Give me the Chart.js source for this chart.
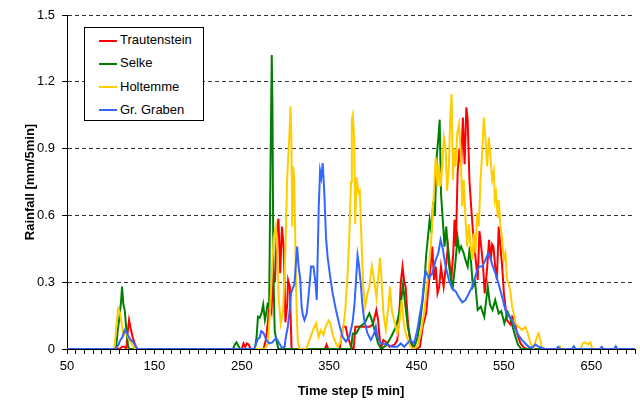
<!DOCTYPE html>
<html lang="en">
<head>
<meta charset="UTF-8">
<title>Rainfall</title>
<style>
  body { margin: 0; background: #fff; }
  #wrap { position: relative; width: 640px; height: 401px; }
  #legend { position: absolute; left: 84px; top: 27px; width: 118px; height: 92px; border: 1px solid #000; background: #fff;
            font: 13px 'Liberation Sans', Arial, sans-serif; color: #000; }
  .item { position: absolute; left: 14px; height: 16px; line-height: 16px; white-space: nowrap; }
  .swatch { display: inline-block; width: 18px; height: 2px; vertical-align: middle; margin-right: 3px; }
</style>
</head>
<body>
<div id="wrap">
  <canvas id="rain" width="640" height="401"></canvas>
  <div id="legend"></div>
</div>

<script src="https://cdn.jsdelivr.net/npm/chart.js@4.4.1/dist/chart.umd.min.js"></script>
<script>
// series names and colours
const seriesNames = ["Trautenstein", "Selke", "Holtemme", "Gr. Graben"];
const seriesColors = ["#ff0000", "#008000", "#ffcc00", "#3366ff"];

// Trautenstein: time step / rainfall
const trautensteinStep = [50, 110, 113, 116, 118, 119, 121, 123, 125, 127, 130,
  250, 252, 254, 256, 258, 260,
  275, 278, 280, 282, 284, 286, 288, 290, 292, 294, 296, 298, 300, 302, 303, 305, 307,
  345, 347, 349, 362, 364, 366, 369, 371, 375, 378, 380, 385, 390, 396, 400, 404, 406, 408, 410, 412, 415, 419,
  425, 428, 430, 432, 434, 436, 437.5, 440, 442, 446, 450, 454, 457, 461, 463, 465.5, 468, 470, 472, 474, 476,
  478, 481, 483, 486, 488, 490, 492, 493.5, 495, 497, 499, 501, 503, 505, 507, 508.5, 510.5, 512.5, 514.5, 517,
  520, 522, 524, 526, 528, 530.5, 533, 535, 536.5, 538, 540, 542, 544, 546, 548, 550, 553.5, 557.5, 559.5, 562,
  565, 569, 572, 576, 700];
const trautensteinRain = [0, 0, 0.01, 0.01, 0, 0.06, 0.13, 0.09, 0.055, 0.03, 0,
  0, 0.025, 0.01, 0.025, 0.02, 0,
  0, 0.05, 0.13, 0.205, 0.17, 0.35, 0.3, 0.52, 0.585, 0.34, 0.55, 0.45, 0.12, 0.2, 0.31, 0.28, 0,
  0, 0.02, 0, 0, 0.055, 0.1, 0.1, 0.06, 0.01, 0, 0.1, 0.1, 0.1, 0.1, 0.11, 0.175, 0.13, 0.04, 0.01, 0.04, 0.03, 0.01,
  0.02, 0.04, 0.13, 0.3, 0.37, 0.3, 0.28, 0.13, 0.055, 0, 0, 0.01, 0.1, 0.16, 0.25, 0.35, 0.46, 0.31, 0.37, 0.25, 0.28,
  0.37, 0.28, 0.35, 0.46, 0.38, 0.32, 0.43, 0.58, 0.46, 0.79, 0.9, 0.82, 1.04, 0.83, 1.085, 1.03, 0.76, 0.64, 0.53, 0.43,
  0.31, 0.53, 0.46, 0.38, 0.25, 0.35, 0.49, 0.4, 0.47, 0.46, 0.37, 0.31, 0.55, 0.46, 0.37, 0.25, 0.13, 0.11, 0.145, 0.13,
  0.07, 0.025, 0.01, 0, 0];

// Selke
const selkeStep = [50, 106, 108, 110.5, 112, 113, 114.5, 116, 118, 120, 122,
  240, 242, 244, 246, 248,
  265, 267, 268.5, 270.5, 272.5, 274.5, 276.5, 278, 279.5, 281.3, 282.8, 284.3, 285.1, 286.2, 287.7, 289.6, 292,
  375, 377, 381, 385, 390.5, 396, 398, 402, 406, 409.5, 415, 421, 426.5, 430, 432.5, 434.5, 436.5, 440, 444, 447.5,
  451, 454, 457, 459, 461, 463, 465, 467, 469, 471, 473, 475, 476.5, 478, 480, 482, 484, 487, 489.5, 491.5, 494,
  497, 499, 501, 504, 506, 508.5, 511, 514.5, 517, 520, 523.5, 527.5, 531.5, 534, 537, 540, 544, 547, 550.5, 554.5,
  558, 562, 566, 570, 700];
const selkeRain = [0, 0, 0.08, 0.16, 0.22, 0.28, 0.2, 0.175, 0.085, 0.01, 0,
  0, 0.02, 0.03, 0.015, 0,
  0, 0.055, 0.145, 0.14, 0.16, 0.2, 0.13, 0.16, 0.2, 0.19, 0.79, 1.32, 1.09, 0.34, 0.08, 0.04, 0,
  0, 0.07, 0.07, 0.1, 0.115, 0.16, 0.14, 0.085, 0.025, 0, 0.015, 0.055, 0.1, 0.16, 0.22, 0.29, 0.22, 0.1, 0.025, 0.01,
  0.05, 0.12, 0.22, 0.3, 0.42, 0.5, 0.58, 0.52, 0.66, 0.6, 0.86, 0.95, 1.03, 0.7, 0.58, 0.46, 0.55, 0.38, 0.31, 0.28, 0.37,
  0.5, 0.44, 0.46, 0.43, 0.4, 0.37, 0.46, 0.28, 0.3, 0.175, 0.19, 0.145, 0.28, 0.2, 0.175, 0.22, 0.16, 0.17, 0.115, 0.165,
  0.13, 0.07, 0.02, 0, 0];

// Holtemme
const holtemmeStep = [50, 104, 106.5, 108.5, 110.5, 112.5, 114.5, 117, 120, 123, 126, 128,
  276, 280, 282, 284, 286.5, 289, 290.5, 292.3, 294.6, 297.3, 300, 301.8, 303, 304.6, 305.8, 306.8, 307.7, 308.8, 310,
  311, 312.2, 314, 316,
  323.6, 327.4, 331, 335, 338, 340.5, 343.4, 346, 349.4, 351.5, 354, 357, 359.7, 362.4, 365.4, 368.5, 371, 373, 375,
  376, 377, 378.7, 379.8, 381.4, 383.6, 385, 387, 389, 391.2, 393.9, 396, 398.8, 401.5, 404.2, 406.5, 408.3, 410,
  412.1, 414.8, 417.8, 419.7, 421.6, 424.3, 428.1, 430.8, 433, 435, 437.6, 441.4, 445.2, 449, 452, 454.7, 456, 458.6,
  461, 464.3, 467, 469, 470, 472, 474, 475.7, 477.5, 479.5, 481.3, 483.3, 485, 487, 488.5, 490.1, 491.7, 493, 494.7,
  496.6, 498.5, 500.4, 502.3, 504, 506.1, 508, 509.9, 512, 513.7, 515.6, 517.5, 519.4, 521.3, 523.2, 525.1, 527,
  528.9, 530.8, 532.7, 534.6, 536.5, 538.4, 539.6, 541, 543, 544.1, 546, 547.9, 549.8, 551.7, 553.6, 555.5, 557.4,
  559.3, 561.2, 563.1, 566.9, 570.7, 574.5, 577.4, 580.2, 584, 587.8, 589.7, 591.6, 593.5, 597.3,
  612, 614, 616, 638, 640, 643, 646, 649, 651, 700];
const holtemmeRain = [0, 0, 0.1, 0.18, 0.165, 0.115, 0.06, 0.08, 0.05, 0.03, 0.01, 0,
  0, 0.025, 0.15, 0.3, 0.5, 0.55, 0.45, 0.22, 0.115, 0.175, 0.45, 0.75, 0.85, 0.97, 1.09, 0.94, 0.55, 0.82, 0.76,
  0.55, 0.26, 0.04, 0,
  0, 0.04, 0.08, 0.115, 0.055, 0.085, 0.063, 0.1, 0.128, 0.115, 0.063, 0.033, 0.01, 0.025, 0.073, 0.175, 0.33, 0.5, 0.75,
  1.03, 1.05, 0.95, 0.56, 0.77, 0.7, 0.71, 0.49, 0.28, 0.19, 0.25, 0.28, 0.37, 0.31, 0.23, 0.34, 0.41, 0.31,
  0.16, 0.085, 0.19, 0.28, 0.175, 0.13, 0.07, 0.13, 0.22, 0.13, 0.07, 0.025, 0, 0.005, 0.025, 0.07, 0.1, 0.16,
  0.25, 0.37, 0.5, 0.65, 0.71, 0.86, 0.73, 0.83, 0.73, 0.82, 0.95, 0.9, 0.71, 0.82, 1.03, 1.145, 0.76, 0.9, 0.82,
  0.97, 1.01, 0.9, 0.64, 0.76, 0.58, 0.46, 0.56, 0.46, 0.4, 0.52, 0.43, 0.61, 0.55, 0.76, 0.88, 1.04,
  0.94, 0.82, 0.95, 0.86, 0.76, 0.8, 0.67, 0.7, 0.59, 0.67, 0.55, 0.5, 0.4, 0.43, 0.31, 0.29, 0.26,
  0.19, 0.16, 0.115, 0.1, 0.085, 0.1, 0.07, 0.025, 0.005, 0.055, 0.07, 0.04, 0.005, 0,
  0, 0.012, 0, 0, 0.025, 0.03, 0.02, 0.03, 0, 0];

// Gr. Graben
const grabenStep = [50, 106, 109, 111, 113.5, 116, 118, 120, 123, 126, 129, 131,
  264, 266, 268.4, 270.4, 272.2, 274.2, 276, 278, 281.7, 285, 289.3, 293, 296, 299, 300.5, 302.7, 304.5, 306.4, 308,
  310.3, 312.2, 313.4, 315, 316.8, 318.5, 320, 321.7, 324.4, 326.7, 329.3, 332, 334.3, 335.8, 338.1, 339.6, 341,
  342.6, 344.5, 346.4, 348.3, 351, 354, 357.8, 361.6, 365.4, 369.2, 373, 376.8, 379, 380.6, 382.5, 384, 386.3, 388,
  390.1, 393.9, 397.7, 401.5, 403.4, 405.3, 409.1, 416.7, 422, 428.1, 431.9, 436, 439.5, 443, 447.1, 450.9, 454.7,
  456.7, 458.5, 460.5, 464, 468.1, 471.9, 474.9, 477.5, 480, 483.3, 487.1, 490.8, 494.7, 498, 502.3, 506, 509.9,
  513.7, 517.5, 521.3, 525.1, 528.9, 532, 534.5, 536.5, 538.4, 540.3, 544.1, 547.9, 551.7, 555.5, 559.3, 563.1,
  566.9, 570.7, 574.5, 578.3, 582, 586, 590, 597, 610, 612, 614, 628, 630, 632, 660, 662, 664, 676, 678, 680, 700];
const grabenRain = [0, 0, 0.02, 0.04, 0.055, 0.085, 0.075, 0.06, 0.04, 0.03, 0.01, 0,
  0, 0.02, 0.045, 0.05, 0.08, 0.075, 0.063, 0.04, 0.025, 0.03, 0.05, 0.025, 0.005, 0.01, 0.055, 0.1, 0.16, 0.25, 0.27,
  0.29, 0.4, 0.46, 0.37, 0.32, 0.19, 0.15, 0.13, 0.16, 0.25, 0.37, 0.37, 0.3, 0.22, 0.64, 0.8, 0.77,
  0.835, 0.7, 0.5, 0.41, 0.33, 0.25, 0.175, 0.11, 0.055, 0.033, 0.055, 0.12, 0.2, 0.3, 0.42, 0.38, 0.29, 0.2,
  0.13, 0.07, 0.04, 0.07, 0.1, 0.055, 0.025, 0.02, 0.01, 0.01, 0.025, 0.01, 0.025, 0.04, 0.025, 0.085, 0.175,
  0.22, 0.3, 0.35, 0.32, 0.34, 0.4, 0.43, 0.49, 0.45, 0.37, 0.31, 0.27, 0.26, 0.235, 0.21, 0.22, 0.25,
  0.28, 0.33, 0.37, 0.37, 0.4, 0.43, 0.41, 0.38, 0.36, 0.34, 0.29, 0.235, 0.175, 0.15, 0.13, 0.09,
  0.06, 0.04, 0.025, 0.01, 0.005, 0.02, 0.01, 0, 0, 0.01, 0, 0, 0.012, 0, 0, 0.01, 0, 0, 0.012, 0, 0];

const seriesSteps = [trautensteinStep, selkeStep, holtemmeStep, grabenStep];
const seriesRain = [trautensteinRain, selkeRain, holtemmeRain, grabenRain];

const fontFamily = "'Liberation Sans', Arial, sans-serif";
Chart.defaults.font.family = fontFamily;
Chart.defaults.font.size = 13;
Chart.defaults.color = "#000";

const datasets = seriesNames.map((name, i) => ({
    label: name,
    data: seriesSteps[i].map((t, j) => ({ x: t, y: seriesRain[i][j] })),
    borderColor: seriesColors[i],
    borderWidth: 2,
    pointRadius: 0,
    tension: 0,
    fill: false,
    order: seriesNames.length - i,   // later series on top, like the original
}));

new Chart(document.getElementById("rain"), {
    type: "line",
    data: { datasets: datasets },
    options: {
        responsive: false,
        animation: false,
        layout: { padding: { top: 15, right: 3, left: 0, bottom: 0 } },
        plugins: { legend: { display: false }, tooltip: { enabled: false } },
        scales: {
            x: {
                type: "linear",
                min: 50,
                max: 700,
                afterFit: s => { s.height = 52; },
                ticks: {
                    stepSize: 10,
                    autoSkip: false,
                    maxRotation: 0,
                    minRotation: 0,
                    padding: 5,
                    callback: v => ((v - 50) % 100 === 0 ? String(v) : ""),
                },
                grid: { drawOnChartArea: false, tickLength: 5, color: "#000", tickColor: "#000" },
                border: { display: true, color: "#000", width: 1 },
                title: {
                    display: true,
                    text: "Time step [5 min]",
                    font: { size: 13, weight: "bold" },
                    padding: { top: 0, bottom: 2 },
                },
            },
            y: {
                min: 0,
                max: 1.5,
                afterFit: s => { s.width = 67; },
                ticks: {
                    stepSize: 0.3,
                    padding: 7,
                    callback: v => String(Number(v.toFixed(1))),
                },
                grid: {
                    color: c => (c.tick && c.tick.value === 0 ? "rgba(0,0,0,0)" : "#333"),
                    tickColor: "#000",
                    tickLength: 5,
                    lineWidth: 1,
                },
                border: { display: true, color: "#000", width: 1, dash: [4, 3] },
                title: {
                    display: true,
                    text: "Rainfall [mm/5min]",
                    font: { size: 13, weight: "bold" },
                    padding: { top: 23, bottom: 0 },
                },
            },
        },
    },
});

// legend box inside the plot, like the original
const legend = document.getElementById("legend");
seriesNames.forEach((name, i) => {
    const row = document.createElement("div");
    row.className = "item";
    row.style.top = (4 + i * 23.3) + "px";
    const sw = document.createElement("span");
    sw.className = "swatch";
    sw.style.background = seriesColors[i];
    row.appendChild(sw);
    row.appendChild(document.createTextNode(name));
    legend.appendChild(row);
});
</script>
</body>
</html>
